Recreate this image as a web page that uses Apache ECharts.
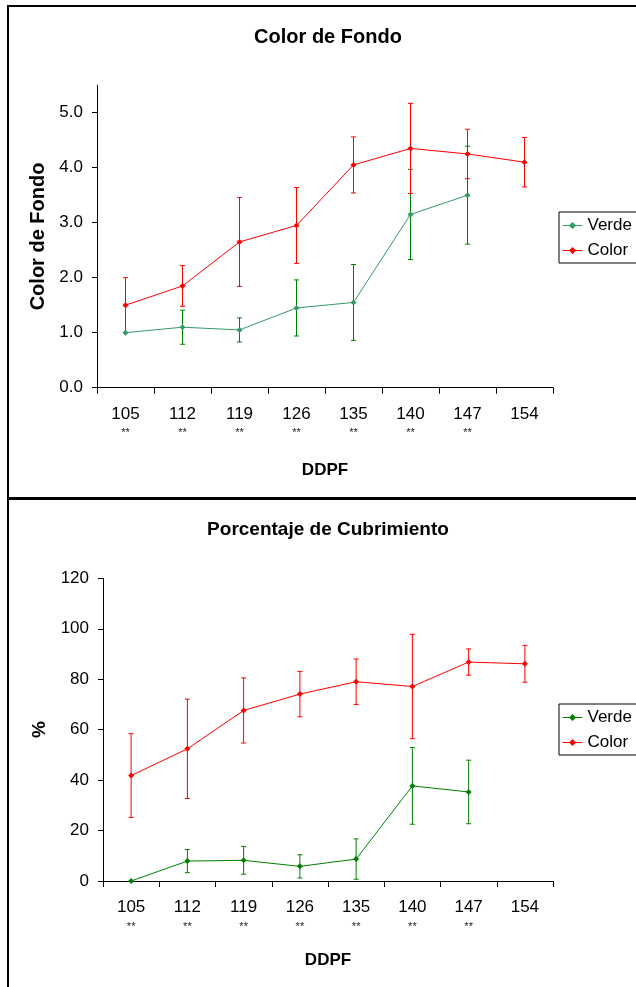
<!DOCTYPE html>
<html>
<head>
<meta charset="utf-8">
<script src="https://cdn.jsdelivr.net/npm/echarts@6/dist/echarts.min.js"></script>
<style>
html,body{margin:0;padding:0;background:#fff;}
#c{width:636px;height:987px;}
</style>
</head>
<body>
<div id="c"></div>
<script>
// ---- data ----
var categories = ['105','112','119','126','135','140','147','154'];
var marks = ['**','**','**','**','**','**','**',''];
var fondoVerde    = [1.00, 1.10, 1.05, 1.45, 1.55, 3.15, 3.50, null];
var fondoVerdeErr = [0,    0.31, 0.22, 0.51, 0.69, 0.82, 0.89, null];
var fondoColor    = [1.50, 1.85, 2.65, 2.95, 4.05, 4.35, 4.25, 4.10];
var fondoColorErr = [0.50, 0.37, 0.81, 0.69, 0.51, 0.82, 0.45, 0.45];
var cubVerde      = [0,   7.9, 8.2, 5.8, 8.7, 37.7, 35.3, null];
var cubVerdeErr   = [0,   4.6, 5.5, 4.6, 8.0, 15.2, 12.6, null];
var cubColor      = [41.8, 52.4, 67.6, 74.1, 79.0, 77.1, 86.8, 86.1];
var cubColorErr   = [16.6, 19.7, 12.9, 9.0, 9.0, 20.7, 5.2, 7.3];
var fondoTicks = [0,1,2,3,4,5];
var cubTicks = [0,20,40,60,80,100,120];

var FONT = '"Liberation Sans", Arial, sans-serif';
var RED = '#ff0000';
var TEAL = '#339966';
var GREEN = '#008000';

function errData(vals, errs) {
  var out = [];
  for (var i = 0; i < vals.length; i++) {
    if (vals[i] == null || errs[i] == null || errs[i] === 0) continue;
    out.push([i, vals[i] - errs[i], vals[i] + errs[i]]);
  }
  return out;
}
function errSeries(name, xi, yi, vals, errs, color) {
  return {
    type: 'custom', name: name + '_err', xAxisIndex: xi, yAxisIndex: yi,
    data: errData(vals, errs), z: 1, silent: true,
    renderItem: function (params, api) {
      var lo = api.coord([api.value(0), api.value(1)]);
      var hi = api.coord([api.value(0), api.value(2)]);
      var w = 2.5;
      var st = { stroke: color, lineWidth: 1 };
      return { type: 'group', children: [
        { type: 'line', shape: { x1: lo[0], y1: lo[1], x2: hi[0], y2: hi[1] }, style: st },
        { type: 'line', shape: { x1: lo[0]-w, y1: lo[1], x2: lo[0]+w, y2: lo[1] }, style: st },
        { type: 'line', shape: { x1: hi[0]-w, y1: hi[1], x2: hi[0]+w, y2: hi[1] }, style: st }
      ]};
    }
  };
}
function lineSeries(name, xi, yi, vals, color) {
  return {
    type: 'line', name: name, xAxisIndex: xi, yAxisIndex: yi, data: vals,
    symbol: 'diamond', symbolSize: 6, showSymbol: true, z: 3,
    lineStyle: { color: color, width: 1 }, itemStyle: { color: color },
    connectNulls: false, animation: false
  };
}
function xAxisCfg(gi, margin, bLH, nameGap) {
  return {
    type: 'category', gridIndex: gi, data: categories, boundaryGap: true,
    axisLine: { lineStyle: { color: '#000', width: 1 } },
    axisTick: { show: true, interval: 0, length: 6, lineStyle: { color: '#000' } },
    axisLabel: {
      interval: 0, margin: margin,
      formatter: function (v, i) { return '{a|' + v + '}\n{b|' + (marks[i] || ' ') + '}'; },
      rich: {
        a: { fontFamily: FONT, fontSize: 17, color: '#000', lineHeight: 20 },
        b: { fontFamily: FONT, fontSize: 11, color: '#222', lineHeight: bLH }
      }
    },
    splitLine: { show: false },
    name: 'DDPF', nameLocation: 'middle', nameGap: nameGap,
    nameTextStyle: { fontFamily: FONT, fontSize: 17, fontWeight: 'bold', color: '#000' }
  };
}
function legendCfg(top, green) {
  return {
    left: 559, top: top, orient: 'vertical', itemWidth: 20, itemHeight: 9, itemGap: 8,
    padding: [5, 30, 4, 3], borderColor: '#000', borderWidth: 1, borderRadius: 0,
    backgroundColor: '#fff',
    textStyle: { fontFamily: FONT, fontSize: 17, color: '#000' },
    data: [
      { name: 'Verde', itemStyle: { color: green }, lineStyle: { color: green, width: 1 } },
      { name: 'Color', itemStyle: { color: RED }, lineStyle: { color: RED, width: 1 } }
    ],
    selectedMode: false
  };
}

var chart = echarts.init(document.getElementById('c'), null, { renderer: 'canvas' });
var option = {
  animation: false,
  backgroundColor: '#fff',
  textStyle: { fontFamily: FONT },
  grid: [
    { left: 97, top: 85.2, width: 456, height: 302.5 },
    { left: 103, top: 578.3, width: 450, height: 302.7 }
  ],
  xAxis: [ xAxisCfg(0, 17, 16, 74), xAxisCfg(1, 16, 20, 71) ],
  yAxis: [
    {
      type: 'value', gridIndex: 0, min: 0, max: 5.5, interval: 1,
      axisLine: { show: true, lineStyle: { color: '#000' } },
      axisTick: { show: true, length: 5, customValues: fondoTicks, lineStyle: { color: '#000' } },
      axisLabel: { margin: 14, customValues: fondoTicks, fontFamily: FONT, fontSize: 17, color: '#000',
        formatter: function (v) { return v.toFixed(1); } },
      splitLine: { show: false },
      name: 'Color de Fondo', nameLocation: 'middle', nameRotate: 90, nameGap: 48,
      nameTextStyle: { fontFamily: FONT, fontSize: 20, fontWeight: 'bold', color: '#000' }
    },
    {
      type: 'value', gridIndex: 1, min: 0, max: 120, interval: 20,
      axisLine: { show: true, lineStyle: { color: '#000' } },
      axisTick: { show: true, length: 5, lineStyle: { color: '#000' } },
      axisLabel: { margin: 14, customValues: cubTicks, fontFamily: FONT, fontSize: 17, color: '#000' },
      splitLine: { show: false },
      name: '%', nameLocation: 'middle', nameRotate: 90, nameGap: 54,
      nameTextStyle: { fontFamily: FONT, fontSize: 19, fontWeight: 'bold', color: '#000' }
    }
  ],
  legend: [ legendCfg(212, TEAL), legendCfg(704, GREEN) ],
  graphic: [
    { type: 'text', x: 328, y: 37, z: 10,
      style: { text: 'Color de Fondo', fontFamily: FONT, fontSize: 20, fontWeight: 'bold', fill: '#000',
        align: 'center', verticalAlign: 'middle' } },
    { type: 'text', x: 328, y: 530, z: 10,
      style: { text: 'Porcentaje de Cubrimiento', fontFamily: FONT, fontSize: 19, fontWeight: 'bold', fill: '#000',
        align: 'center', verticalAlign: 'middle' } },
    { type: 'line', z: 10, shape: { x1: 8, y1: 6, x2: 8, y2: 987 }, style: { stroke: '#000', lineWidth: 2 } },
    { type: 'line', z: 10, shape: { x1: 7, y1: 6, x2: 636, y2: 6 }, style: { stroke: '#000', lineWidth: 2 } },
    { type: 'line', z: 10, shape: { x1: 7, y1: 498.5, x2: 636, y2: 498.5 }, style: { stroke: '#000', lineWidth: 3 } }
  ],
  series: [
    errSeries('Verde', 0, 0, fondoVerde, fondoVerdeErr, GREEN),
    errSeries('Color', 0, 0, fondoColor, fondoColorErr, RED),
    lineSeries('Verde', 0, 0, fondoVerde, TEAL),
    lineSeries('Color', 0, 0, fondoColor, RED),
    errSeries('Verde', 1, 1, cubVerde, cubVerdeErr, GREEN),
    errSeries('Color', 1, 1, cubColor, cubColorErr, RED),
    lineSeries('Verde', 1, 1, cubVerde, GREEN),
    lineSeries('Color', 1, 1, cubColor, RED)
  ]
};
chart.setOption(option);
</script>
</body>
</html>
